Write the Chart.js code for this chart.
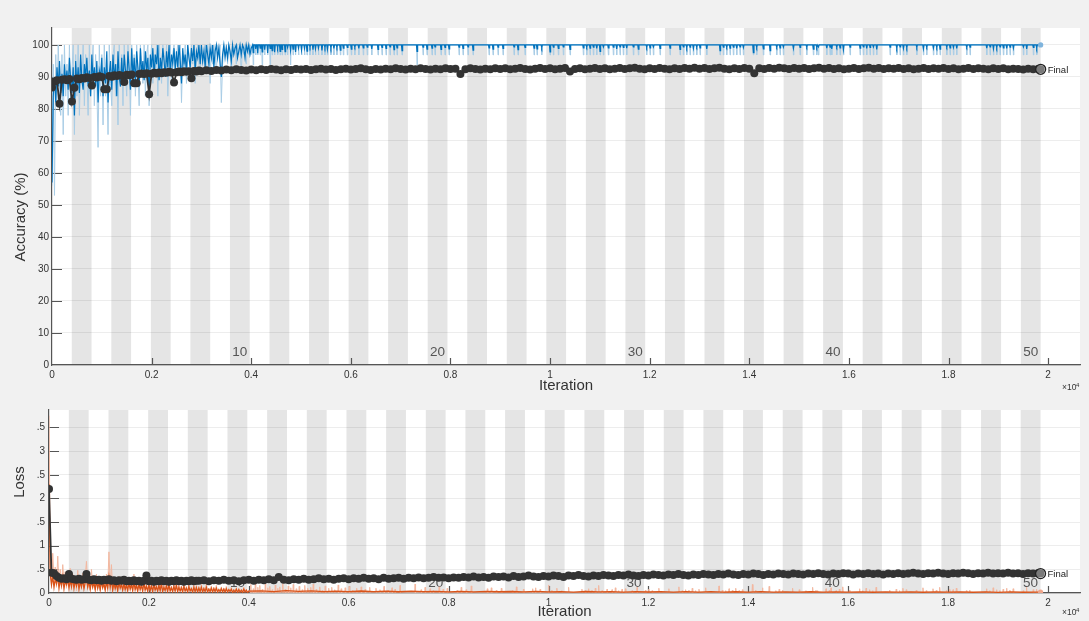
<!DOCTYPE html>
<html>
<head>
<meta charset="utf-8">
<script src="https://cdn.jsdelivr.net/npm/chart.js@4.4.1/dist/chart.umd.min.js"></script>
<style>
  html, body { margin: 0; padding: 0; background: #f1f1f1; }
  #wrap { position: relative; width: 1089px; height: 621px; overflow: hidden; }
  #accBox { position: absolute; left: 0; top: 0; width: 1089px; height: 400px; }
  #lossBox { position: absolute; left: 0; top: 400px; width: 1089px; height: 221px; }
</style>
</head>
<body>
<div id="wrap">
  <div id="accBox"><canvas id="accChart"></canvas></div>
  <div id="lossBox"><canvas id="lossChart"></canvas></div>
</div>
<script>
// ---- training setup ----
const itersPerEpoch = 397;
const numEpochs = 50;
const finalIter = 19850;
const epochLabels = [10, 20, 30, 40, 50];

// x axis ticks (iterations, shown as x10^4)
const iterTicks = [0, 2000, 4000, 6000, 8000, 10000, 12000, 14000, 16000, 18000, 20000];
const iterTickText = ['0', '0.2', '0.4', '0.6', '0.8', '1', '1.2', '1.4', '1.6', '1.8', '2'];
const accTicks = [0, 10, 20, 30, 40, 50, 60, 70, 80, 90, 100];
const lossTicks = [0, 0.5, 1, 1.5, 2, 2.5, 3, 3.5];
const lossTickText = ['0', '.5', '1', '.5', '2', '.5', '3', '.5'];

// ---- first 4000 iterations, one value every 25 iterations ----
const earlyStep = 25;
const earlyAccRaw = [
  56, 94, 53, 97, 81, 100, 88, 78, 97, 72, 100, 84, 94, 78, 100, 81, 91, 100, 72, 97,
  84, 100, 78, 94, 88, 100, 81, 97, 91, 78, 100, 84, 94, 100, 81, 97, 88, 68, 100, 84,
  97, 75, 100, 84, 91, 72, 100, 88, 81, 97, 100, 84, 94, 75, 100, 88, 97, 81, 100, 91,
  84, 100, 94, 78, 100, 88, 97, 84, 100, 91, 81, 100, 94, 88, 100, 84, 97, 100, 81, 94,
  100, 88, 97, 91, 100, 84, 100, 94, 88, 100, 97, 91, 100, 84, 94, 100, 88, 97, 100, 91,
  97, 100, 91, 100, 82, 97, 94, 100, 88, 100, 97, 91, 100, 94, 100, 88, 97, 100, 94, 91,
  100, 94, 97, 100, 91, 100, 97, 88, 100, 94, 100, 97, 91, 100, 97, 100, 82, 94, 100, 97,
  100, 94, 100, 97, 91, 100, 97, 100, 94, 100, 97, 100, 91, 100, 97, 100, 94, 100, 97, 100,
  97
];
const earlyAccSmooth = [
  57, 84, 90, 82, 93, 87, 95, 85, 91, 84, 94, 88, 92, 86, 96, 89, 85, 93, 78, 95,
  87, 93, 85, 97, 89, 86, 94, 90, 96, 87, 92, 84, 97, 89, 93, 87, 95, 82, 92, 90,
  96, 84, 93, 88, 98, 82, 91, 95, 86, 97, 89, 94, 84, 98, 90, 87, 96, 88, 97, 92,
  89, 98, 92, 86, 99, 90, 96, 88, 98, 93, 87, 99, 91, 95, 89, 98, 92, 96, 84, 97,
  93, 99, 90, 97, 94, 100, 89, 96, 92, 99, 95, 90, 98, 93, 100, 91, 97, 94, 99, 92,
  98, 93, 100, 95, 88, 99, 94, 97, 91, 100, 96, 93, 99, 95, 100, 92, 98, 96, 100, 94,
  100, 95, 98, 93, 100, 97, 94, 99, 96, 100, 93, 98, 100, 96, 99, 94, 90, 97, 100, 96,
  99, 96, 100, 98, 95, 100, 97, 99, 100, 96, 98, 100, 97, 100, 99, 96, 100, 98, 100, 97,
  99
];
const earlyLossRaw = [
  3.75, 0.9, 0.1, 0.84, 0.3, 0.55, 0.12, 0.78, 0.2, 0.5, 0.08, 0.6, 0.25, 0.45, 0.1, 0.38, 0.15, 0.52, 0.06, 0.4,
  0.12, 0.35, 0.05, 0.48, 0.18, 0.3, 0.08, 0.42, 0.1, 0.33, 0.67, 0.12, 0.38, 0.06, 0.5, 0.15, 0.28, 0.07, 0.4, 0.1,
  0.3, 0.05, 0.36, 0.12, 0.25, 0.06, 0.4, 0.1, 0.87, 0.15, 0.6, 0.05, 0.32, 0.1, 0.28, 0.04, 0.35, 0.12, 0.24, 0.06,
  0.3, 0.08, 0.22, 0.04, 0.33, 0.1, 0.26, 0.05, 0.4, 0.08, 0.2, 0.04, 0.3, 0.09, 0.22, 0.05, 0.38, 0.07, 0.18, 0.04,
  0.25, 0.06, 0.2, 0.03, 0.28, 0.07, 0.18, 0.04, 0.24, 0.05, 0.3, 0.03, 0.16, 0.06, 0.22, 0.03, 0.26, 0.05, 0.15, 0.03,
  0.2, 0.04, 0.24, 0.02, 0.18, 0.05, 0.15, 0.02, 0.22, 0.04, 0.14, 0.02, 0.2, 0.05, 0.12, 0.02, 0.18, 0.03, 0.16, 0.02,
  0.14, 0.03, 0.18, 0.02, 0.12, 0.04, 0.2, 0.01, 0.1, 0.03, 0.15, 0.02, 0.12, 0.03, 0.16, 0.01, 0.09, 0.03, 0.13, 0.02,
  0.1, 0.02, 0.14, 0.01, 0.09, 0.03, 0.12, 0.01, 0.08, 0.02, 0.11, 0.01, 0.1, 0.02, 0.07, 0.01, 0.12, 0.02, 0.08, 0.01,
  0.06
];
const earlyLossSmooth = [
  2.3, 0.4, 0.18, 0.35, 0.12, 0.3, 0.2, 0.36, 0.1, 0.28, 0.16, 0.33, 0.09, 0.26, 0.18, 0.3, 0.1, 0.27, 0.14, 0.32,
  0.1, 0.26, 0.15, 0.3, 0.08, 0.24, 0.13, 0.28, 0.09, 0.22, 0.3, 0.12, 0.25, 0.08, 0.27, 0.12, 0.22, 0.07, 0.26, 0.1,
  0.22, 0.07, 0.25, 0.11, 0.2, 0.06, 0.24, 0.1, 0.34, 0.12, 0.28, 0.06, 0.22, 0.09, 0.2, 0.05, 0.23, 0.1, 0.18, 0.06,
  0.2, 0.07, 0.17, 0.05, 0.22, 0.08, 0.18, 0.05, 0.24, 0.07, 0.16, 0.04, 0.2, 0.07, 0.16, 0.04, 0.22, 0.06, 0.14, 0.04,
  0.17, 0.05, 0.15, 0.03, 0.18, 0.06, 0.13, 0.04, 0.16, 0.05, 0.19, 0.03, 0.12, 0.05, 0.15, 0.03, 0.17, 0.04, 0.11, 0.03,
  0.14, 0.04, 0.16, 0.03, 0.12, 0.04, 0.11, 0.02, 0.14, 0.04, 0.1, 0.02, 0.13, 0.04, 0.09, 0.02, 0.12, 0.03, 0.11, 0.02,
  0.1, 0.03, 0.12, 0.02, 0.09, 0.03, 0.12, 0.02, 0.08, 0.03, 0.1, 0.02, 0.09, 0.03, 0.1, 0.02, 0.07, 0.03, 0.09, 0.02,
  0.08, 0.02, 0.09, 0.02, 0.07, 0.03, 0.08, 0.01, 0.06, 0.02, 0.08, 0.01, 0.07, 0.02, 0.06, 0.01, 0.08, 0.02, 0.06, 0.01,
  0.04
];

// ---- after iteration 4000: accuracy sits at 100 with single-miss dips ----
const spikeIter = [
  4040, 4090, 4130, 4180, 4220, 4270, 4330, 4380, 4420, 4470, 4530, 4580, 4620, 4680, 4730, 4790, 4840, 4890, 4950, 5010,
  5070, 5120, 5180, 5240, 5290, 5350, 5420, 5480, 5530, 5600, 5660, 5720, 5790, 5850, 5930, 6010, 6080, 6160, 6250, 6330, 6420,
  6546, 6626, 6707, 6787, 6867, 6928, 7028, 7329, 7450, 7530, 7630, 7691, 7811, 7891, 7972, 8173, 8253, 8353, 8454, 8775,
  8855, 8956, 9056, 9277, 9357, 9498, 9679, 9739,
  9833, 10000, 10067, 10167, 10267, 10402, 10669, 10736, 10803, 10870, 10937, 11004, 11071, 11171, 11271, 11338, 11405, 11472,
  11539, 11673, 11773, 11940, 12008, 12075, 12209, 12409, 12610, 12677, 12744, 12811, 12878, 12945, 13012, 13146, 13413, 13480,
  13547, 13614, 13681, 13748, 13815, 13882, 14082, 14149, 14283, 14418, 14551, 14618, 14685, 14886, 15020, 15154, 15287, 15354,
  15388, 15556, 15622, 15656, 15756, 15823, 15890, 16024, 16225, 16291, 16358, 16425, 16492, 16559, 16827, 16961, 17028, 17095,
  17162, 17363, 17496, 17563, 17697, 17764, 17831, 17965, 18032, 18099, 18165, 18366, 18433, 18768, 18835, 18902, 18968, 19035,
  19102, 19169, 19236, 19303, 19504, 19570, 19704, 19771
];
const rawMissAcc = 96.875;
const deepSpikeIter = [4040, 4220, 4380, 4790, 7329];
const deepSpikeAcc = [93.75, 93.75, 93.75, 93.75, 93.75];
const spikeAccSmooth = [
  97.6, 98.8, 97.4, 99.0, 97.8, 98.5, 97.5, 98.9, 98.2, 97.7, 99.1, 98.0, 98.6, 97.9, 99.2, 98.3, 98.7, 97.8, 99.0, 98.4,
  98.9, 98.1, 99.3, 98.5, 98.8, 99.0, 98.3, 99.2, 98.6, 99.1, 98.9, 99.3, 98.4, 99.0, 99.2, 98.7, 99.4, 98.9, 99.1, 99.3, 98.8,
  98.6, 99.2, 98.9, 99.4, 98.5, 99.1, 98.2, 98.0, 99.3, 98.7, 99.0, 99.4, 98.6, 99.2, 98.8, 99.3, 98.9, 99.4, 98.4, 99.1,
  98.7, 99.3, 98.9, 99.4, 98.5, 99.2, 99.0, 98.8,
  99.2, 97.8, 99.3, 98.9, 99.4, 98.6, 99.1, 99.4, 99.0, 99.3, 98.9, 98.0, 99.4, 99.1, 99.3, 98.8, 99.4, 99.2,
  99.0, 99.4, 98.7, 99.3, 99.1, 99.4, 98.9, 99.0, 98.6, 99.4, 99.2, 99.3, 98.9, 99.4, 99.1, 98.8, 98.2, 99.3,
  99.4, 99.0, 99.3, 98.9, 99.4, 99.2, 97.6, 99.3, 98.8, 98.2, 99.4, 99.1, 99.3, 98.9, 99.2, 99.4, 98.7, 99.3,
  99.4, 99.0, 99.3, 98.8, 99.4, 99.1, 98.5, 99.3, 99.0, 99.4, 98.9, 99.2, 99.4, 98.6, 99.3, 99.1, 99.4, 98.9,
  99.2, 99.3, 98.8, 99.4, 99.0, 99.3, 98.7, 99.4, 99.1, 99.2, 98.9, 99.4, 99.3, 99.0, 99.4, 98.8, 99.2, 99.4,
  99.1, 98.9, 99.3, 99.0, 99.4, 98.8, 99.2, 99.1
];
const lossRawFloor = 0.005;
const spikeLossRaw = [
  0.18, 0.09, 0.21, 0.12, 0.16, 0.08, 0.19, 0.11, 0.14, 0.07, 0.17, 0.1, 0.13, 0.2, 0.08, 0.15, 0.11, 0.18, 0.09, 0.14,
  0.07, 0.16, 0.1, 0.12, 0.19, 0.08, 0.13, 0.06, 0.15, 0.1, 0.12, 0.07, 0.17, 0.09, 0.11, 0.14, 0.06, 0.1, 0.13, 0.08, 0.12,
  0.1, 0.07, 0.14, 0.06, 0.11, 0.08, 0.16, 0.19, 0.07, 0.12, 0.09, 0.05, 0.13, 0.08, 0.1, 0.06, 0.12, 0.07, 0.15, 0.09,
  0.11, 0.06, 0.1, 0.05, 0.13, 0.08, 0.09, 0.11,
  0.08, 0.17, 0.06, 0.1, 0.05, 0.12, 0.08, 0.05, 0.09, 0.06, 0.1, 0.16, 0.05, 0.08, 0.07, 0.11, 0.05, 0.08,
  0.09, 0.05, 0.12, 0.06, 0.08, 0.05, 0.1, 0.09, 0.13, 0.05, 0.07, 0.06, 0.1, 0.05, 0.08, 0.11, 0.15, 0.06,
  0.05, 0.09, 0.06, 0.1, 0.05, 0.07, 0.18, 0.06, 0.11, 0.14, 0.05, 0.08, 0.06, 0.1, 0.07, 0.05, 0.12, 0.06,
  0.05, 0.09, 0.06, 0.11, 0.05, 0.08, 0.13, 0.06, 0.09, 0.05, 0.1, 0.07, 0.05, 0.12, 0.06, 0.08, 0.05, 0.1,
  0.07, 0.06, 0.11, 0.05, 0.09, 0.06, 0.12, 0.05, 0.08, 0.07, 0.1, 0.05, 0.06, 0.09, 0.05, 0.11, 0.07, 0.05,
  0.08, 0.1, 0.06, 0.09, 0.05, 0.12, 0.07, 0.08
];
// smoothed loss after 4000, one value every 250 iterations (4250 .. 19750)
const lateLossStart = 4250;
const lateLossStep = 250;
const lateLossSmooth = [
  0.045, 0.03, 0.05, 0.035, 0.045, 0.03, 0.04, 0.028, 0.042, 0.03, 0.038, 0.026, 0.04, 0.028, 0.035, 0.025,
  0.036, 0.024, 0.034, 0.026, 0.032, 0.022, 0.034, 0.024, 0.03, 0.02, 0.032, 0.022, 0.03, 0.02, 0.028, 0.021,
  0.03, 0.019, 0.027, 0.02, 0.028, 0.018, 0.026, 0.02, 0.027, 0.018, 0.025, 0.019, 0.026, 0.017, 0.024, 0.018,
  0.025, 0.016, 0.024, 0.018, 0.023, 0.016, 0.024, 0.017, 0.022, 0.016, 0.023, 0.015, 0.022, 0.016, 0.02
];

// ---- validation: every 50 iterations up to 2950, then every 100 up to 19800, then the final check ----
const valEarlyStep = 50;
const valLateStart = 3000;
const valLateStep = 100;
const valAccEarly = [
  86.7, 88.6, 89.0, 81.6, 89.1, 89.3, 89.0, 89.4, 82.3, 86.6,
  89.5, 89.3, 89.7, 89.5, 89.9, 89.7, 87.3, 90.0, 89.8, 90.2,
  90.0, 86.2, 86.2, 90.3, 90.1, 90.5, 90.3, 90.6, 90.4, 88.4,
  90.7, 90.5, 90.8, 88.0, 88.0, 90.9, 91.1, 90.9, 91.2, 84.6,
  91.0, 91.3, 91.1, 91.4, 91.2, 91.5, 91.3, 91.6, 91.4, 88.3,
  91.5, 91.7, 91.5, 91.8, 91.6, 91.8, 89.6, 91.9, 91.7, 92.0
];
const valAccLate = [
  91.8, 92.1, 91.9, 92.2, 92.0, 92.3, 92.1, 92.4, 92.2, 92.0, 92.3, 92.1, 92.4, 92.2, 92.5, 92.3, 92.1, 92.4, 92.2, 92.5,
  92.3, 92.5, 92.2, 92.4, 92.6, 92.3, 92.5, 92.2, 92.4, 92.6, 92.3, 92.5, 92.7, 92.4, 92.2, 92.5, 92.3, 92.6, 92.4, 92.7,
  92.5, 92.3, 92.6, 92.4, 92.7, 92.5, 92.3, 92.6, 92.4, 92.7, 92.5, 92.6, 90.9, 92.4, 92.7, 92.5, 92.3, 92.6, 92.4, 92.7,
  92.5, 92.7, 92.4, 92.6, 92.8, 92.5, 92.3, 92.6, 92.8, 92.5, 92.7, 92.4, 92.6, 92.8, 91.7, 92.5, 92.7, 92.4, 92.6, 92.8,
  92.5, 92.7, 92.4, 92.6, 92.8, 92.5, 92.7, 92.9, 92.6, 92.4, 92.7, 92.5, 92.8, 92.6, 92.4, 92.7, 92.5, 92.8, 92.6, 92.9,
  92.6, 92.8, 92.5, 92.7, 92.9, 92.6, 92.4, 92.7, 92.5, 92.8, 92.6, 91.2, 92.7, 92.5, 92.8, 92.6, 92.9, 92.7, 92.5, 92.8,
  92.6, 92.8, 92.5, 92.7, 92.9, 92.6, 92.8, 92.5, 92.7, 92.4, 92.6, 92.8, 92.5, 92.7, 92.9, 92.6, 92.8, 92.5, 92.7, 92.6,
  92.8, 92.5, 92.7, 92.4, 92.6, 92.8, 92.5, 92.7, 92.6, 92.8, 92.5, 92.7, 92.4, 92.6, 92.8, 92.5, 92.7, 92.6, 92.4, 92.7,
  92.5, 92.7, 92.4, 92.6, 92.5, 92.3, 92.6, 92.4, 92.5
];
const finalValAcc = 92.4;
const valLossEarly = [
  2.2, 0.43, 0.42, 0.36, 0.32, 0.3, 0.31, 0.29, 0.4, 0.3,
  0.29, 0.28, 0.3, 0.28, 0.29, 0.4, 0.28, 0.27, 0.29, 0.27,
  0.28, 0.26, 0.28, 0.27, 0.29, 0.26, 0.27, 0.25, 0.27, 0.26,
  0.28, 0.25, 0.26, 0.25, 0.27, 0.25, 0.26, 0.24, 0.26, 0.37,
  0.25, 0.26, 0.24, 0.26, 0.25, 0.27, 0.25, 0.26, 0.24, 0.26,
  0.25, 0.27, 0.25, 0.26, 0.24, 0.26, 0.25, 0.27, 0.25, 0.26
];
const valLossLate = [
  0.26, 0.27, 0.25, 0.27, 0.26, 0.28, 0.26, 0.27, 0.25, 0.27, 0.28, 0.26, 0.28, 0.27, 0.29, 0.27, 0.34, 0.28, 0.27, 0.29,
  0.28, 0.3, 0.28, 0.29, 0.31, 0.29, 0.3, 0.28, 0.3, 0.31, 0.29, 0.31, 0.3, 0.32, 0.3, 0.31, 0.29, 0.32, 0.3, 0.31,
  0.32, 0.3, 0.32, 0.31, 0.33, 0.31, 0.32, 0.34, 0.32, 0.33, 0.31, 0.33, 0.32, 0.34, 0.33, 0.35, 0.33, 0.34, 0.32, 0.35,
  0.34, 0.35, 0.33, 0.36, 0.34, 0.35, 0.37, 0.35, 0.34, 0.36, 0.35, 0.37, 0.36, 0.34, 0.37, 0.36, 0.38, 0.36, 0.35, 0.37,
  0.36, 0.38, 0.37, 0.36, 0.38, 0.37, 0.39, 0.37, 0.36, 0.38, 0.37, 0.39, 0.38, 0.37, 0.39, 0.38, 0.4, 0.38, 0.37, 0.39,
  0.38, 0.4, 0.39, 0.38, 0.4, 0.39, 0.41, 0.39, 0.38, 0.4, 0.39, 0.41, 0.4, 0.38, 0.4, 0.39, 0.41, 0.4, 0.39, 0.41,
  0.4, 0.39, 0.41, 0.4, 0.42, 0.4, 0.39, 0.41, 0.4, 0.42, 0.41, 0.39, 0.41, 0.4, 0.42, 0.4, 0.41, 0.39, 0.41, 0.4,
  0.42, 0.4, 0.41, 0.43, 0.41, 0.4, 0.42, 0.41, 0.43, 0.41, 0.4, 0.42, 0.41, 0.43, 0.42, 0.4, 0.42, 0.41, 0.43, 0.41,
  0.42, 0.41, 0.43, 0.41, 0.42, 0.4, 0.42, 0.41, 0.42
];
const finalValLoss = 0.41;

// ---- build point lists from the arrays above ----
function stepPoints(values, step, start) {
  return values.map((v, i) => ({ x: start + i * step, y: v }));
}
function withSpikes(early, base, depthOf, half) {
  const pts = early.slice();
  spikeIter.forEach((s, i) => {
    pts.push({ x: s - half, y: base }, { x: s, y: depthOf(s, i) }, { x: s + half, y: base });
  });
  pts.push({ x: finalIter, y: base });
  return pts;
}
function validationPoints(early, late, last) {
  return stepPoints(early, valEarlyStep, 0)
    .concat(stepPoints(late, valLateStep, valLateStart))
    .concat([{ x: finalIter, y: last }]);
}

const accRawPts = withSpikes(stepPoints(earlyAccRaw, earlyStep, 0), 100, (s) => {
  const k = deepSpikeIter.indexOf(s);
  return k >= 0 ? deepSpikeAcc[k] : rawMissAcc;
}, 9);
const accSmoothPts = withSpikes(stepPoints(earlyAccSmooth, earlyStep, 0), 100, (s, i) => spikeAccSmooth[i] ?? 99.2, 12);
const lossRawPts = withSpikes(stepPoints(earlyLossRaw, earlyStep, 0), lossRawFloor, (s, i) => spikeLossRaw[i] ?? 0.06, 9);
const lossSmoothPts = stepPoints(earlyLossSmooth, earlyStep, 0)
  .concat(stepPoints(lateLossSmooth, lateLossStep, lateLossStart))
  .concat([{ x: finalIter, y: 0.02 }]);

// ---- drawing helpers ----
const FONT = '"Liberation Sans", Arial, Helvetica, sans-serif';

const trainingDecor = {
  id: 'trainingDecor',
  beforeDraw(chart) {
    const { ctx, chartArea: a, scales: { x } } = chart;
    ctx.save();
    ctx.fillStyle = '#ffffff';
    ctx.fillRect(a.left, a.top, a.right - a.left, a.bottom - a.top);
    ctx.fillStyle = '#e5e5e5';
    for (let e = 2; e <= numEpochs; e += 2) {
      const x0 = x.getPixelForValue((e - 1) * itersPerEpoch);
      const x1 = x.getPixelForValue(e * itersPerEpoch);
      ctx.fillRect(x0, a.top, x1 - x0, a.bottom - a.top);
    }
    ctx.restore();
  },
  beforeDatasetsDraw(chart, args, opts) {
    const { ctx, chartArea: a, scales: { x, y } } = chart;
    ctx.save();
    // epoch numbers sit under the curves
    ctx.font = '13.5px ' + FONT;
    ctx.fillStyle = '#555';
    ctx.textAlign = 'center';
    ctx.textBaseline = 'middle';
    epochLabels.forEach(e => {
      ctx.fillText(String(e), x.getPixelForValue((e - 0.5) * itersPerEpoch), a.bottom - opts.epochLift);
    });
    // inward tick marks
    ctx.strokeStyle = '#555';
    ctx.lineWidth = 1.2;
    ctx.beginPath();
    iterTicks.forEach(v => {
      if (v === 0) return;
      const px = Math.round(x.getPixelForValue(v)) + 0.5;
      ctx.moveTo(px, a.bottom);
      ctx.lineTo(px, a.bottom - 7);
    });
    opts.yTicks.forEach(v => {
      const py = Math.round(y.getPixelForValue(v)) + 0.5;
      ctx.moveTo(a.left, py);
      ctx.lineTo(a.left + 10, py);
    });
    ctx.stroke();
    ctx.restore();
  },
  afterDraw(chart, args, opts) {
    const { ctx, chartArea: a, scales: { x, y } } = chart;
    ctx.save();
    ctx.fillStyle = '#333';
    ctx.textAlign = 'center';
    ctx.textBaseline = 'middle';
    // axis titles
    ctx.font = '15px ' + FONT;
    ctx.fillText('Iteration', (a.left + a.right) / 2, opts.xTitleY);
    ctx.save();
    ctx.translate(opts.yTitleX, opts.yTitleY);
    ctx.rotate(-Math.PI / 2);
    ctx.fillText(opts.yTitle, 0, 0);
    ctx.restore();
    // x10^4 multiplier
    ctx.textAlign = 'left';
    ctx.font = '8.5px ' + FONT;
    ctx.fillText('\u00d710', 1062, opts.expY);
    ctx.font = '6px ' + FONT;
    ctx.fillText('4', 1076, opts.expY - 3);
    // final marker label
    ctx.font = '9.5px ' + FONT;
    ctx.fillStyle = '#222';
    ctx.fillText('Final', x.getPixelForValue(finalIter) + 7, y.getPixelForValue(opts.finalValue) + 1);
    ctx.restore();
  }
};

function xScale(height) {
  return {
    type: 'linear',
    min: 0,
    max: 20640,
    afterBuildTicks: s => { s.ticks = iterTicks.map(v => ({ value: v })); },
    afterFit: s => { s.height = height; },
    grid: { display: false, drawTicks: false },
    border: { display: true, color: '#555', width: 1.2 },
    ticks: {
      autoSkip: false, maxRotation: 0, padding: 4, color: '#333',
      font: { family: FONT, size: 10 },
      callback: v => iterTickText[iterTicks.indexOf(v)] ?? ''
    }
  };
}
function yScale(max, ticks, text, width, pad) {
  return {
    min: 0,
    max: max,
    afterBuildTicks: s => { s.ticks = ticks.map(v => ({ value: v })); },
    afterFit: s => { s.width = width; },
    grid: { color: 'rgba(0,0,0,0.07)', lineWidth: 1, drawTicks: false },
    border: { display: true, color: '#555', width: 1.2 },
    ticks: {
      autoSkip: false, padding: pad, color: '#333',
      font: { family: FONT, size: 10 },
      callback: v => text[ticks.indexOf(v)] ?? ''
    }
  };
}

const lineDefaults = { pointRadius: 0, borderJoinStyle: 'miter', tension: 0, fill: false };
const valStyle = { borderColor: '#333', borderWidth: 1.8, pointRadius: 4, pointBorderWidth: 0,
  pointBackgroundColor: '#333', tension: 0 };

new Chart(document.getElementById('accChart'), {
  type: 'line',
  data: {
    datasets: [
      { data: [{ x: finalIter, y: finalValAcc }], showLine: false, pointRadius: 5,
        pointBorderColor: '#222', pointBorderWidth: 1.3, pointBackgroundColor: 'rgba(255,255,255,0.35)', order: 0 },
      { data: [{ x: finalIter, y: 100 }], showLine: false, pointRadius: 2.6,
        pointBorderWidth: 0, pointBackgroundColor: '#7fb4dd', order: 1 },
      { ...valStyle, data: validationPoints(valAccEarly, valAccLate, finalValAcc), order: 2 },
      { ...lineDefaults, data: accSmoothPts, borderColor: '#0072bd', borderWidth: 1.2, order: 3 },
      { ...lineDefaults, data: accRawPts, borderColor: '#a9cde6', borderWidth: 1, order: 4 }
    ]
  },
  options: {
    animation: false,
    responsive: true,
    maintainAspectRatio: false,
    layout: { padding: { top: 28, right: 9, left: 0, bottom: 0 } },
    scales: {
      x: xScale(35),
      y: yScale(105.3, accTicks, accTicks.map(String), 52, 3)
    },
    plugins: {
      legend: { display: false },
      tooltip: { enabled: false },
      trainingDecor: {
        epochLift: 13, yTicks: accTicks.slice(1), yTitle: 'Accuracy (%)',
        yTitleX: 21, yTitleY: 217, xTitleY: 386, expY: 388, finalValue: finalValAcc
      }
    }
  },
  plugins: [trainingDecor]
});

new Chart(document.getElementById('lossChart'), {
  type: 'line',
  data: {
    datasets: [
      { data: [{ x: finalIter, y: finalValLoss }], showLine: false, pointRadius: 5,
        pointBorderColor: '#222', pointBorderWidth: 1.3, pointBackgroundColor: 'rgba(255,255,255,0.35)', order: 0 },
      { data: [{ x: finalIter, y: 0.02 }], showLine: false, pointRadius: 2.6,
        pointBorderWidth: 0, pointBackgroundColor: '#f0a58a', order: 1 },
      { ...valStyle, data: validationPoints(valLossEarly, valLossLate, finalValLoss), order: 2 },
      { ...lineDefaults, data: lossSmoothPts, borderColor: '#d95319', borderWidth: 1.3, order: 3 },
      { ...lineDefaults, data: lossRawPts, borderColor: '#f3b8a0', borderWidth: 1, order: 4 }
    ]
  },
  options: {
    animation: false,
    responsive: true,
    maintainAspectRatio: false,
    layout: { padding: { top: 3, right: 9, left: 0, bottom: 0 } },
    scales: {
      x: xScale(28),
      y: yScale(3.87, lossTicks, lossTickText, 49, 4)
    },
    plugins: {
      legend: { display: false },
      tooltip: { enabled: false },
      trainingDecor: {
        epochLift: 10, yTicks: lossTicks.slice(1), yTitle: 'Loss',
        yTitleX: 20, yTitleY: 82, xTitleY: 212, expY: 213, finalValue: finalValLoss
      }
    }
  },
  plugins: [trainingDecor]
});
</script>
</body>
</html>
